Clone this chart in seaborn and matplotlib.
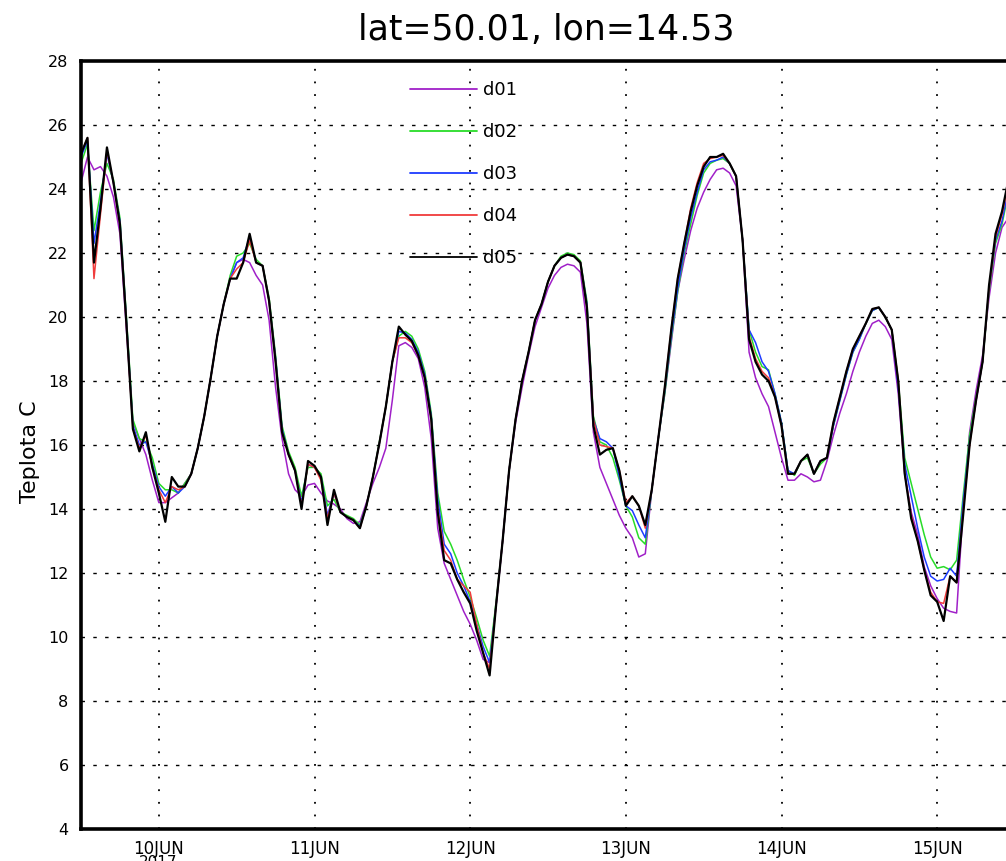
import numpy as np
import pandas as pd
import matplotlib
matplotlib.use("Agg")
import matplotlib.pyplot as plt
import seaborn as sns

# ---------------- data ----------------
title = "lat=50.01, lon=14.53"
ylabel = "Teplota C"
start_time = "2017-06-09 12:00"
n_hours = 144
day_ticks = ["2017-06-10", "2017-06-11", "2017-06-12", "2017-06-13", "2017-06-14", "2017-06-15"]
day_labels = ["10JUN", "11JUN", "12JUN", "13JUN", "14JUN", "15JUN"]
year_label = "2017"
y_ticks = [4, 6, 8, 10, 12, 14, 16, 18, 20, 22, 24, 26, 28]

series_names = ["d01", "d02", "d03", "d04", "d05"]

d01 = [24.2, 25.0, 24.6, 24.7, 24.4, 23.75, 22.6, 19.6, 16.7, 16.2, 15.7, 14.9,
       14.2, 14.2, 14.35, 14.5, 14.8, 15.1, 15.9, 16.9, 18.1, 19.4, 20.4, 21.2,
       21.7, 21.8, 21.7, 21.3, 21.0, 19.9, 17.8, 16.2, 15.1, 14.6, 14.4, 14.75,
       14.8, 14.5, 14.25, 14.15, 14.0, 13.7, 13.55, 13.6, 14.2, 14.8, 15.3, 15.9,
       17.4, 19.1, 19.2, 19.05, 18.7, 17.8, 16.2, 13.4, 12.3, 11.8, 11.3, 10.8,
       10.4, 9.9, 9.3, 9.2, 11.0, 13.0, 15.2, 16.7, 17.8, 18.8, 19.7, 20.3,
       20.9, 21.3, 21.55, 21.65, 21.6, 21.4, 19.8, 16.4, 15.3, 14.8, 14.3, 13.8,
       13.4, 13.1, 12.5, 12.6, 14.6, 16.2, 17.6, 19.2, 20.8, 21.8, 22.7, 23.4,
       23.9, 24.3, 24.6, 24.65, 24.5, 24.1, 22.4, 18.9, 18.1, 17.6, 17.2, 16.4,
       15.6, 14.9, 14.9, 15.1, 15.0, 14.85, 14.9, 15.5, 16.3, 17.0, 17.6, 18.3,
       18.9, 19.4, 19.8, 19.9, 19.7, 19.3, 17.6, 15.1, 13.9, 13.2, 12.2, 11.6,
       11.2, 10.9, 10.8, 10.75, 14.0, 16.4, 17.7, 18.8, 20.6, 22.0, 22.8, 23.1]

d02 = [24.8, 25.4, 22.7, 23.9, 24.8, 24.3, 23.1, 20.0, 16.8, 16.2, 16.1, 15.6,
       14.8, 14.6, 14.6, 14.5, 14.8, 15.1, 15.9, 16.9, 18.1, 19.4, 20.4, 21.3,
       21.9, 22.0, 22.3, 21.8, 21.6, 20.6, 18.8, 16.6, 15.8, 15.3, 14.4, 15.3,
       15.3, 15.1, 14.1, 14.3, 13.9, 13.8, 13.7, 13.5, 14.1, 15.0, 16.1, 17.2,
       18.6, 19.4, 19.55, 19.4, 19.0, 18.3, 17.0, 14.5, 13.3, 12.9, 12.4, 11.8,
       11.25, 10.6, 9.9, 9.4, 11.1, 13.0, 15.2, 16.8, 18.0, 18.9, 19.9, 20.4,
       21.1, 21.6, 21.9, 22.0, 21.95, 21.75, 20.5, 16.9, 16.1, 16.0, 15.6, 14.9,
       14.1, 13.75, 13.1, 12.9, 14.6, 16.2, 17.6, 19.3, 20.8, 22.0, 22.9, 23.8,
       24.5, 24.8, 24.9, 24.95, 24.8, 24.4, 22.4, 19.6, 18.9, 18.45, 18.35, 17.6,
       16.7, 15.2, 15.05, 15.5, 15.6, 15.1, 15.4, 15.6, 16.6, 17.4, 18.2, 18.9,
       19.3, 19.8, 20.2, 20.3, 20.0, 19.6, 18.0, 15.6, 14.8, 14.0, 13.2, 12.5,
       12.15, 12.2, 12.1, 12.4, 14.4, 16.3, 17.5, 18.6, 20.8, 22.3, 22.9, 23.9]

d03 = [25.0, 25.5, 22.3, 23.6, 25.1, 24.2, 23.0, 19.9, 16.6, 16.0, 16.1, 15.4,
       14.7, 14.4, 14.7, 14.5, 14.7, 15.1, 15.9, 16.9, 18.1, 19.4, 20.4, 21.2,
       21.7, 21.85, 22.5, 21.7, 21.6, 20.5, 18.7, 16.5, 15.7, 15.2, 14.2, 15.4,
       15.3, 15.0, 13.8, 14.5, 13.9, 13.75, 13.65, 13.45, 14.1, 15.0, 16.05, 17.2,
       18.6, 19.55, 19.5, 19.3, 18.9, 18.2, 16.9, 14.3, 12.9, 12.6, 12.0, 11.6,
       11.1, 10.4, 9.7, 9.2, 11.0, 13.0, 15.2, 16.8, 18.0, 18.9, 19.9, 20.4,
       21.1, 21.6, 21.85, 21.95, 21.9, 21.7, 20.4, 16.8, 16.2, 16.1, 15.9, 15.0,
       14.1, 13.95, 13.5, 13.1, 14.6, 16.2, 17.7, 19.4, 20.9, 22.1, 23.1, 23.9,
       24.6, 24.85, 24.9, 25.0, 24.8, 24.4, 22.4, 19.6, 19.2, 18.6, 18.3, 17.6,
       16.7, 15.2, 15.1, 15.5, 15.7, 15.1, 15.5, 15.6, 16.6, 17.4, 18.2, 18.9,
       19.3, 19.8, 20.2, 20.3, 20.0, 19.6, 17.8, 15.4, 14.4, 13.4, 12.5, 11.9,
       11.75, 11.8, 12.15, 11.9, 14.2, 16.1, 17.4, 18.6, 20.9, 22.4, 23.0, 24.0]

d04 = [25.1, 25.6, 21.2, 23.2, 25.2, 24.2, 22.9, 19.8, 16.5, 15.9, 16.3, 15.3,
       14.6, 14.2, 14.7, 14.6, 14.7, 15.1, 15.9, 16.9, 18.1, 19.4, 20.4, 21.2,
       21.5, 21.7, 22.4, 21.7, 21.6, 20.5, 18.6, 16.4, 15.7, 15.2, 14.1, 15.4,
       15.3, 14.9, 13.7, 14.5, 13.9, 13.75, 13.65, 13.4, 14.1, 15.0, 16.05, 17.2,
       18.6, 19.35, 19.35, 19.2, 18.8, 18.1, 16.8, 14.0, 12.7, 12.4, 11.8, 11.6,
       11.4, 10.4, 9.5, 9.0, 11.0, 13.0, 15.2, 16.8, 18.0, 18.9, 19.9, 20.4,
       21.1, 21.6, 21.85, 21.95, 21.9, 21.7, 20.3, 16.8, 16.0, 15.95, 15.9, 15.2,
       14.2, 14.4, 14.1, 13.4, 14.6, 16.2, 17.8, 19.6, 21.2, 22.3, 23.4, 24.2,
       24.8, 24.95, 25.0, 25.05, 24.8, 24.4, 22.4, 19.4, 18.7, 18.3, 18.1, 17.5,
       16.6, 15.1, 15.1, 15.5, 15.7, 15.1, 15.5, 15.6, 16.7, 17.5, 18.3, 19.0,
       19.4, 19.8, 20.25, 20.3, 20.0, 19.6, 18.0, 15.1, 13.8, 13.0, 12.1, 11.4,
       11.1, 11.05, 11.9, 11.7, 13.9, 16.0, 17.4, 18.6, 20.9, 22.5, 23.2, 24.2]

d05 = [25.1, 25.6, 21.7, 23.4, 25.3, 24.2, 22.9, 19.8, 16.5, 15.8, 16.4, 15.3,
       14.5, 13.6, 15.0, 14.7, 14.7, 15.1, 15.9, 16.9, 18.1, 19.4, 20.4, 21.2,
       21.2, 21.7, 22.6, 21.7, 21.6, 20.5, 18.6, 16.4, 15.7, 15.2, 14.0, 15.5,
       15.35, 15.0, 13.5, 14.6, 13.9, 13.75, 13.65, 13.4, 14.1, 15.0, 16.05, 17.2,
       18.6, 19.7, 19.45, 19.25, 18.8, 18.1, 16.8, 13.9, 12.4, 12.3, 11.8, 11.4,
       11.05, 10.2, 9.5, 8.8, 11.0, 13.0, 15.2, 16.8, 18.0, 18.9, 19.9, 20.4,
       21.1, 21.6, 21.85, 21.95, 21.9, 21.7, 20.3, 16.6, 15.7, 15.85, 15.9, 15.2,
       14.1, 14.4, 14.1, 13.5, 14.6, 16.2, 17.8, 19.6, 21.2, 22.3, 23.3, 24.1,
       24.7, 25.0, 25.0, 25.1, 24.8, 24.4, 22.4, 19.3, 18.6, 18.2, 18.0, 17.5,
       16.6, 15.1, 15.1, 15.5, 15.7, 15.1, 15.5, 15.6, 16.7, 17.5, 18.3, 19.0,
       19.4, 19.8, 20.25, 20.3, 20.0, 19.6, 18.0, 15.1, 13.7, 13.0, 12.1, 11.3,
       11.1, 10.5, 11.9, 11.7, 13.8, 16.0, 17.4, 18.6, 21.0, 22.6, 23.3, 24.3]

series_values = [d01, d02, d03, d04, d05]

# ---------------- style ----------------
colors = ["#a020c8", "#28dc28", "#1e3cff", "#f03c3c", "#000000"]
widths = [1.1, 1.1, 1.1, 1.1, 1.6]

sns.set_style("white")
plt.rcParams["font.family"] = ["DejaVu Sans"]
plt.rcParams["text.color"] = "black"
plt.rcParams["axes.labelcolor"] = "black"
plt.rcParams["xtick.color"] = "black"
plt.rcParams["ytick.color"] = "black"

W, H = 1006, 861
fig = plt.figure(figsize=(W / 100, H / 100), dpi=100)
ax_left, ax_right, ax_top, ax_bottom = 81, 1015, 61, 829
ax = fig.add_axes([ax_left / W, 1 - ax_bottom / H, (ax_right - ax_left) / W, (ax_bottom - ax_top) / H])

times = pd.date_range(start_time, periods=n_hours, freq="h")
frames = [pd.DataFrame({"time": times, "temp": vals, "run": name})
          for name, vals in zip(series_names, series_values)]
df = pd.concat(frames, ignore_index=True)

for name, col, lw in zip(series_names, colors, widths):
    sub = df[df["run"] == name]
    sns.lineplot(data=sub, x="time", y="temp", color=col, linewidth=lw,
                 label=name, ax=ax, estimator=None, sort=False)

ax.set_xlim(pd.Timestamp(start_time), pd.Timestamp(start_time) + pd.Timedelta(hours=144))
ax.set_ylim(4, 28)

tick_times = [pd.Timestamp(d) for d in day_ticks]
ax.set_xticks(tick_times)
ax.set_xticklabels(day_labels, fontsize=12, color="black")
ax.set_yticks(y_ticks)
ax.set_yticklabels([str(v) for v in y_ticks], fontsize=11.5, color="black")
ax.set_xlabel("")
ax.set_ylabel("")

# grid
for v in y_ticks[1:-1]:
    ax.axhline(v, color="black", linewidth=1.0, linestyle=(0, (2.5, 6)), zorder=0.5)
for t in tick_times:
    ax.axvline(t, color="black", linewidth=1.3, linestyle=(0, (1, 6)), zorder=0.5)

for side in ["left", "bottom", "top"]:
    ax.spines[side].set_visible(True)
    ax.spines[side].set_linewidth(2.6)
    ax.spines[side].set_color("black")
ax.spines["right"].set_visible(False)

ax.tick_params(axis="both", direction="out", length=5, width=1.5, colors="black")
ax.tick_params(axis="y", pad=4)
ax.tick_params(axis="x", pad=3)

leg = ax.legend(loc="upper left",
                bbox_to_anchor=((410 - ax_left) / (ax_right - ax_left), (ax_bottom - 81) / (ax_bottom - ax_top)),
                frameon=False, fontsize=13, handlelength=3.7, handletextpad=0.35,
                labelspacing=1.33, borderpad=0, borderaxespad=0)
for line in leg.get_lines():
    line.set_linewidth(1.3)
for txt in leg.get_texts():
    txt.set_color("black")

fig.text(546 / W, 1 - 30 / H, title, ha="center", va="center", fontsize=25, color="black")
fig.text(30 / W, 1 - 452 / H, ylabel, ha="center", va="center", rotation=90, fontsize=16, color="black")
fig.text(158 / W, 1 - 855 / H, year_label, ha="center", va="top", fontsize=11, color="black")

fig.savefig("out.png", dpi=100)
